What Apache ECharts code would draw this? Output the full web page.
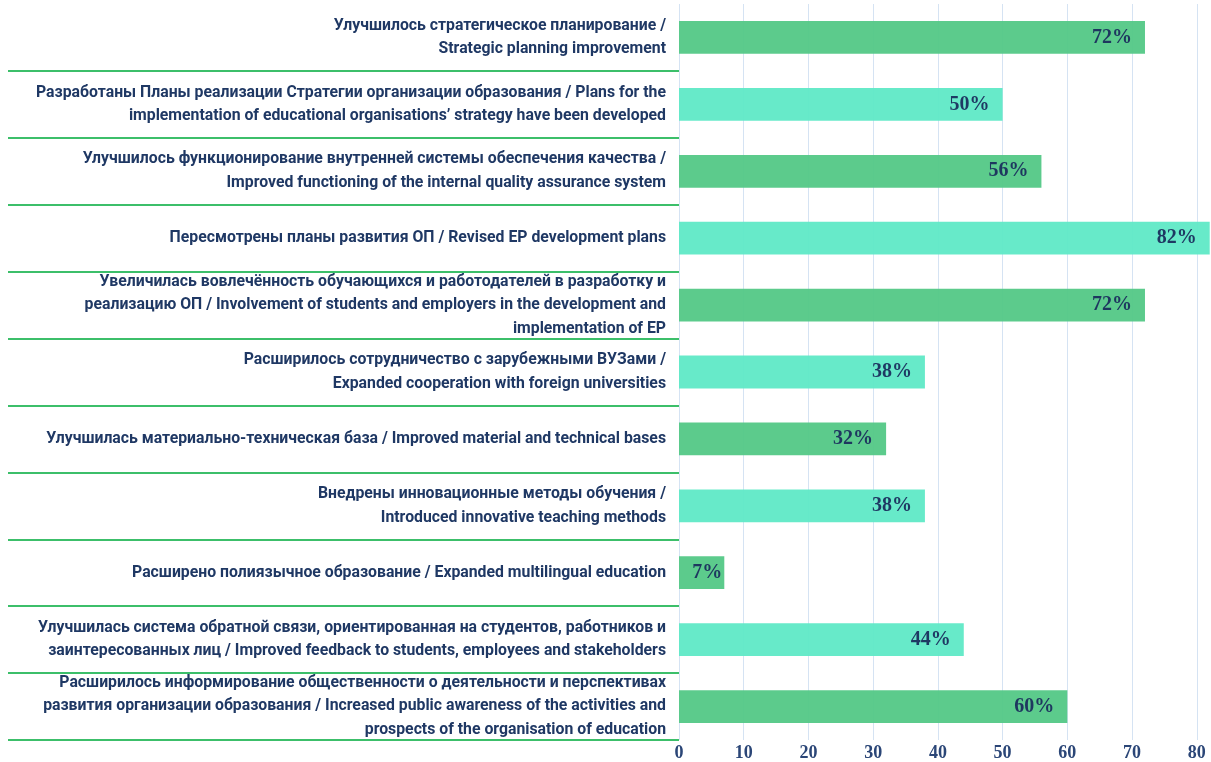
<!DOCTYPE html>
<html>
<head>
<meta charset="utf-8">
<script src="https://cdn.jsdelivr.net/npm/echarts@6/dist/echarts.min.js"></script>
<style>
  html, body { margin: 0; padding: 0; background: #fff; }
  #chart_container { width: 1211px; height: 762px; }
</style>
</head>
<body>
<div id="chart_container"></div>
<script>
// категории (сверху вниз)
const categories = [
  'Улучшилось стратегическое планирование /\nStrategic planning improvement',
  'Разработаны Планы реализации Стратегии организации образования / Plans for the\nimplementation of educational organisations’ strategy have been developed',
  'Улучшилось функционирование внутренней системы обеспечения качества /\nImproved functioning of the internal quality assurance system',
  'Пересмотрены планы развития ОП / Revised EP development plans',
  'Увеличилась вовлечённость обучающихся и работодателей в разработку и\nреализацию ОП / Involvement of students and employers in the development and\nimplementation of EP',
  'Расширилось сотрудничество с зарубежными ВУЗами /\nExpanded cooperation with foreign universities',
  'Улучшилась материально-техническая база / Improved material and technical bases',
  'Внедрены инновационные методы обучения /\nIntroduced innovative teaching methods',
  'Расширено полиязычное образование / Expanded multilingual education',
  'Улучшилась система обратной связи, ориентированная на студентов, работников и\nзаинтересованных лиц / Improved feedback to students, employees and stakeholders',
  'Расширилось информирование общественности о деятельности и перспективах\nразвития организации образования / Increased public awareness of the activities and\nprospects of the organisation of education'
];
const values = [72, 50, 56, 82, 72, 38, 32, 38, 7, 44, 60];
const barColors = ['#53c886', '#5fe9c6'];

const chart = echarts.init(document.getElementById('chart_container'));

// короткий столбик - подпись ближе к краю
const barData = values.map(v => v < 10 ? { value: v, label: { distance: 2 } } : v);

chart.setOption({
  animation: false,
  grid: {
    left: 679,
    right: 0,
    top: 4,
    bottom: 22,
    outerBoundsMode: 'none'
  },
  xAxis: {
    type: 'value',
    min: 0,
    max: 82.2,
    interval: 10,
    axisLine: { show: false },
    axisTick: { show: false },
    splitLine: { lineStyle: { color: '#d5e3f3', width: 1 } },
    axisLabel: {
      showMaxLabel: false,
      margin: 4,
      color: '#2b4677',
      fontFamily: 'Liberation Serif',
      fontWeight: 'bold',
      fontSize: 18
    }
  },
  yAxis: {
    type: 'category',
    inverse: true,
    data: categories,
    axisLine: { show: false },
    axisTick: {
      show: true,
      length: 671,
      interval: (index) => index !== 0,
      lineStyle: { color: '#3cbf6a', width: 2 }
    },
    axisLabel: {
      interval: 0,
      margin: 13,
      align: 'right',
      color: '#1f3864',
      fontFamily: 'Roboto',
      fontWeight: 'bold',
      fontSize: 15.8,
      lineHeight: 23.5
    }
  },
  series: [
    {
      type: 'bar',
      data: barData,
      barWidth: '49%',
      itemStyle: {
        opacity: 0.95,
        color: (p) => barColors[p.dataIndex % 2]
      },
      label: {
        show: true,
        position: 'insideRight',
        distance: 13,
        formatter: '{c}%',
        color: '#1b2f5e',
        fontFamily: 'Liberation Serif',
        fontWeight: 'bold',
        fontSize: 20
      }
    }
  ]
});
</script>
</body>
</html>
